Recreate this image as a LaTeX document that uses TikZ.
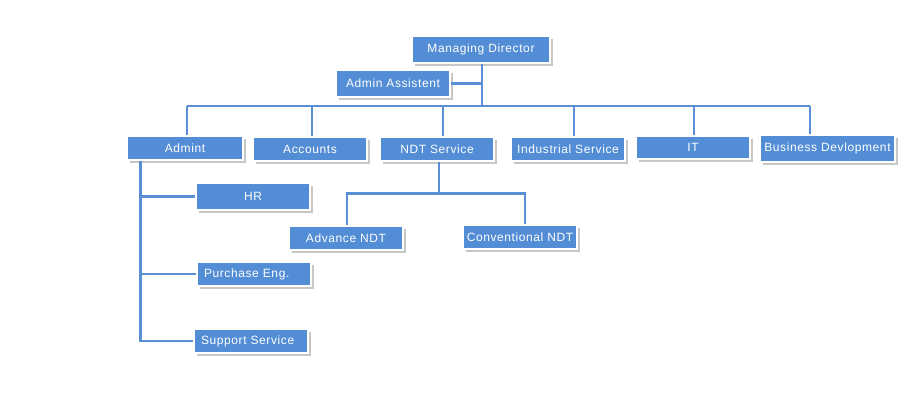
\documentclass[tikz,border=0pt]{standalone}
\usepackage{fontspec}
\setmainfont[LetterSpace=5]{Liberation Sans}
\usetikzlibrary{shadows}
\definecolor{boxblue}{HTML}{538DD5}
\definecolor{lineblue}{HTML}{5A8ED5}
\begin{document}
\begin{tikzpicture}[x=1pt,y=-1pt,
  box/.style={fill=boxblue, draw=white, line width=1.6pt, text=white,
    font=\fontsize{12}{14}\selectfont, inner sep=0pt,
    drop shadow={shadow xshift=3pt, shadow yshift=-3pt, fill=black, opacity=0.22}},
  leftbox/.style={box, align=left, inner xsep=7pt},
  conn/.style={draw=lineblue, line width=2.8pt}]
\useasboundingbox (0,0) rectangle (922,415);
% nodes
\node[box, minimum width=138pt, minimum height=27pt] (md) at (481,49.5) {Managing Director};
\node[box, minimum width=114pt, minimum height=27pt] (aa) at (393,83.5) {Admin Assistent};
\node[box, minimum width=116pt, minimum height=24pt] (admint) at (185,148) {Admint};
\node[box, minimum width=114pt, minimum height=24pt] (acc) at (310,149) {Accounts};
\node[box, minimum width=114pt, minimum height=24pt] (ndt) at (437,149) {NDT Service};
\node[box, minimum width=114pt, minimum height=24pt] (ind) at (568,149) {Industrial Service};
\node[box, minimum width=114pt, minimum height=23pt] (it) at (693,147.5) {IT};
\node[box, minimum width=135pt, minimum height=27pt] (bd) at (827.5,148.5) {Business Devlopment};
\node[box, minimum width=114pt, minimum height=27pt] (hr) at (253,196.5) {HR};
\node[leftbox, text width=100pt, minimum height=24pt] (pur) at (254,274) {Purchase Eng.};
\node[leftbox, text width=100pt, minimum height=24pt] (sup) at (251,341) {Support Service};
\node[box, minimum width=114pt, minimum height=24pt] (adv) at (346,238) {Advance NDT};
\node[box, minimum width=114pt, minimum height=24pt] (conv) at (520,237) {Conventional NDT};
% bus
\coordinate (busL) at (187,106);
\coordinate (busR) at (810,106);
\coordinate (mdj) at ([xshift=1pt]md.south);
\draw[conn] (mdj) -- (mdj |- busL);
\draw[conn] (aa.east) -- (aa.east -| mdj);
\draw[conn] (busL) -- (busR);
\draw[conn] ([xshift=2pt]admint.north |- busL) -- ([xshift=2pt]admint.north);
\draw[conn] ([xshift=2pt]acc.north |- busL) -- ([xshift=2pt]acc.north);
\draw[conn] ([xshift=6pt]ndt.north |- busL) -- ([xshift=6pt]ndt.north);
\draw[conn] ([xshift=6pt]ind.north |- busL) -- ([xshift=6pt]ind.north);
\draw[conn] ([xshift=1pt]it.north |- busL) -- ([xshift=1pt]it.north);
\draw[conn] ([xshift=-17.5pt]bd.north |- busL) -- ([xshift=-17.5pt]bd.north);
% admint branch
\coordinate (adm) at ([xshift=14pt]admint.south west);
\draw[conn] (adm) -- (adm |- sup.west) -- (sup.west);
\draw[conn] (adm |- hr.west) -- (hr.west);
\draw[conn] (adm |- pur.west) -- (pur.west);
% ndt branch
\draw[conn] ([xshift=2pt]ndt.south) -- ++(0,32) coordinate (nj);
\draw[conn] ([xshift=1pt]adv.north) |- (nj) -| ([xshift=5pt]conv.north);
\end{tikzpicture}
\end{document}
